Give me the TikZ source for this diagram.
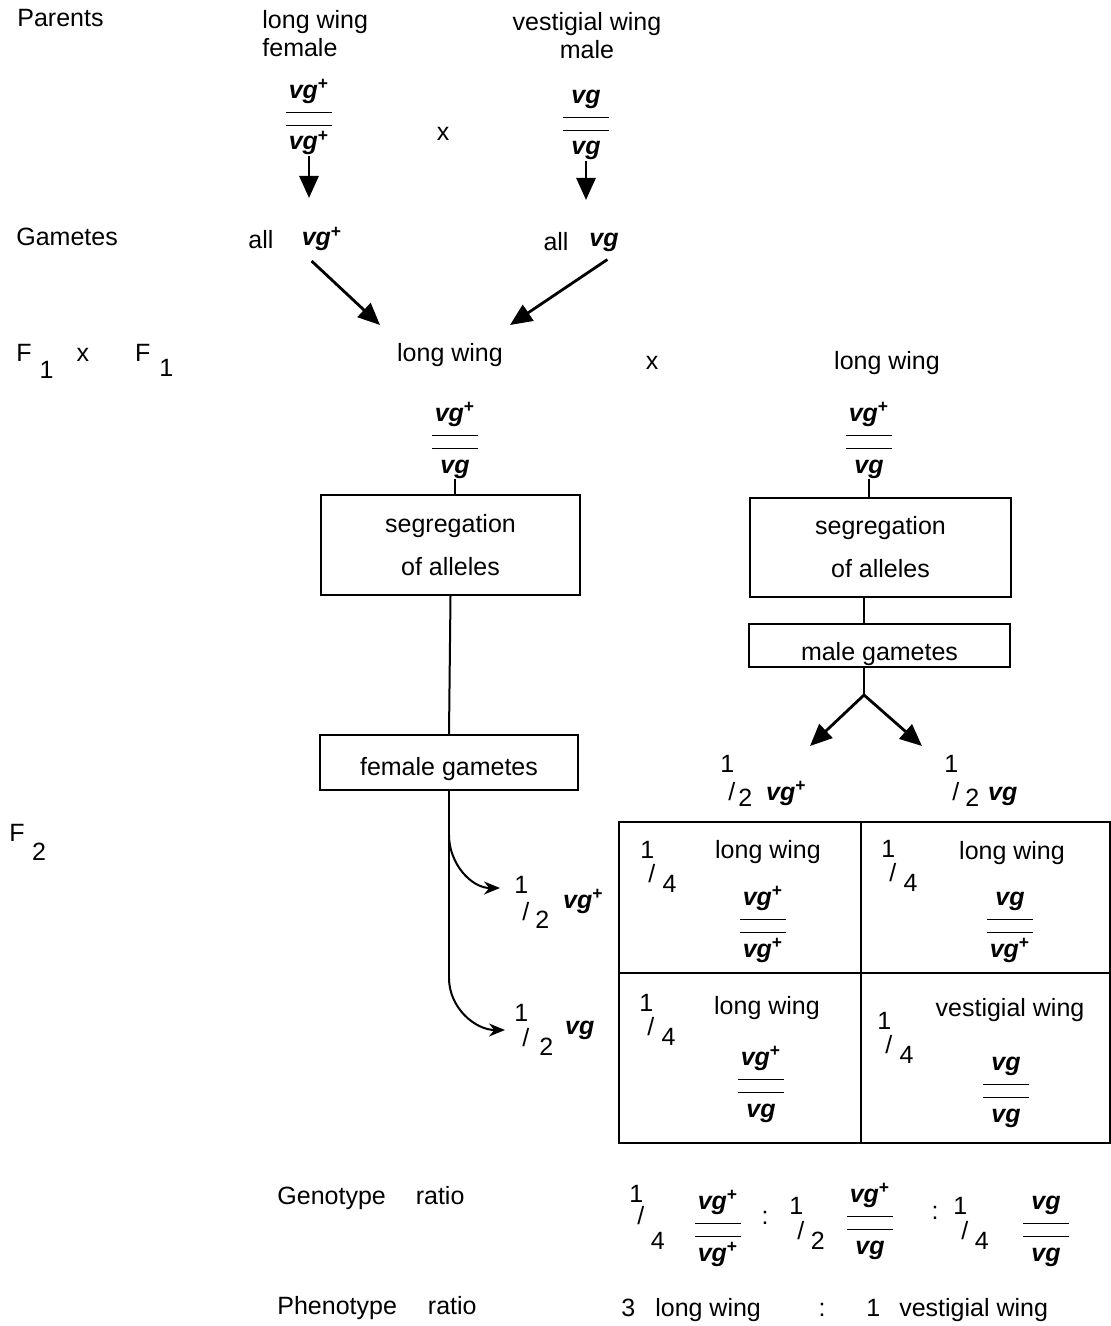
\documentclass[tikz,border=0pt]{standalone}
\usepackage{fontspec}
\setmainfont{Liberation Sans}
\usepackage{tikz}
\usetikzlibrary{arrows.meta,calc}

\newcommand{\vg}{\textbf{\textit{vg}}}
\newcommand{\vgp}{\textbf{\textit{vg}}\textsuperscript{\textbf{+}}}
% alleles over a double bar
\newcommand{\geno}[2]{\vbox{%
    \hbox to 23pt{\hss\vrule height6.8pt depth2.6pt width0pt\smash{#1}\hss}%
    \kern4pt\hrule height0.6pt\kern6.2pt\hrule height0.6pt\kern5pt
    \hbox to 23pt{\hss\vrule height6.8pt depth2.6pt width0pt\smash{#2}\hss}}}
% staggered fraction: [raise][lower][gap]{num}{den}
\NewDocumentCommand{\frq}{O{14pt} O{-3pt} O{2.5pt} m m}{\raisebox{#1}{#4}\kern-3pt/\kern#3\raisebox{#2}{#5}}

\begin{document}
\begin{tikzpicture}[x=0.5pt, y=-0.5pt,
    font=\fontsize{12.5}{15}\selectfont,
    every node/.style={inner sep=0pt},
    box/.style={draw, line width=1pt, align=center, font=\fontsize{12.5}{21.5}\selectfont},
    link/.style={line width=1pt},
    bigarrow/.style={line width=1.4pt, -{Triangle[length=11pt,width=9.5pt]}},
    curvearrow/.style={line width=1pt, -{Stealth[length=8pt,width=6.5pt]}}]
            \useasboundingbox (0,0) rectangle (1111,1326);

            % parents
            \node[anchor=west] (par) at (17,18) {Parents};
            \node[anchor=west, align=left, font=\fontsize{12.5}{14}\selectfont] (lwf) at (262,34) {long wing\\female};
            \node[align=center, font=\fontsize{12.5}{14}\selectfont] (vwm) at (587,36) {vestigial wing\\male};
            \node (gP1) at (309,120) {\geno{\vgp}{\vgp}};
            \node (crossP) at (443,134) {x};
            \node (gP2) at (586,125) {\geno{\vg}{\vg}};
            \coordinate (tP1) at (309,198);
            \coordinate (tP2) at (586,200);
            \draw[bigarrow] (gP1.south) -- (tP1);
            \draw[bigarrow] (gP2.south) -- (tP2);

            % gametes
            \node[anchor=west] (gam) at (16,237) {Gametes};
            \node (allF) at (261,240) {all};
            \node (gamF) at (322,239) {\vgp};
            \node (allM) at (556,242) {all};
            \node (gamM) at (604,242) {\vg};
            \coordinate (tF1) at (380,325);
            \coordinate (tM1) at (510,325);
            \draw[bigarrow, shorten <=7pt] (gamF.south west) -- (tF1);
            \draw[bigarrow, shorten <=7pt] (gamM.south east) -- (tM1);

            % F1 cross
            \node[anchor=base west] (fone) at (16,361) {F\kern4pt\raisebox{-9pt}{1}\kern11.5pt x\kern23pt F\kern4.5pt\raisebox{-7.5pt}{1}};
            \node (lwA) at (450,355) {long wing};
            \node (crossF) at (652,363) {x};
            \node (lwB) at (887,363) {long wing};
            \node (gA) at (455,443) {\geno{\vgp}{\vg}};
            \node (gB) at (869,443) {\geno{\vgp}{\vg}};

            \node[box, minimum width=129.5pt, minimum height=50pt] (segF) at (450.5,545) {segregation\\of alleles};
            \node[box, minimum width=130.5pt, minimum height=49.5pt] (segM) at (880.5,547.5) {segregation\\of alleles};
            \node[box, minimum width=130.5pt, minimum height=21.5pt, text height=15pt, text depth=0pt] (gamMbox) at (879.5,645.5) {male gametes};
            \node[box, minimum width=129pt, minimum height=27.5pt, text height=13pt, text depth=0pt] (gamFbox) at (449,762.5) {female gametes};

            \draw[link] (gA.south) -- (gA.south |- segF.north);
            \draw[link] (gB.south) -- (gB.south |- segM.north);
            \draw[link] (segF.south) -- (gamFbox.north);

            % male gametes split
            \coordinate (split) at (864,695);
            \coordinate (tS1) at (810,746);
            \coordinate (tS2) at (922,746);
            \draw[link] (segM.south -| split) -- (gamMbox.north -| split);
            \draw[link] (gamMbox.south -| split) -- (split);
            \draw[bigarrow] (split) -- (tS1);
            \draw[bigarrow] (split) -- (tS2);
            \node[anchor=base west] (hM1) at (720,800) {\frq[14pt][-3pt][1.5pt]{1}{2}\kern7pt\vgp};
            \node[anchor=base west] (hM2) at (944,800) {\frq[14pt][-3pt][3pt]{1}{2}\kern4.5pt\vg};

            % female gametes
            \coordinate (bendA) at (449,835);
            \coordinate (bendB) at (449,978);
            \coordinate (tipA) at (500,888);
            \coordinate (tipB) at (505,1030);
            \draw[link] (gamFbox.south) -- (bendB);
            \draw[curvearrow] (bendA) to[out=-90, in=180] (tipA);
            \draw[curvearrow] (bendB) to[out=-90, in=180] (tipB);
            \node[anchor=base west] (hF1) at (514,920) {\frq[13.5pt][-4pt][3pt]{1}{2}\kern7pt\raisebox{6pt}{\vgp}};
            \node[anchor=base west] (hF2) at (514,1046) {\frq[12.5pt][-4.5pt][5pt]{1}{2}\kern6pt\raisebox{6pt}{\vg}};

            % F2 grid
            \node[anchor=base west] (ftwo) at (9,841) {F\kern3.7pt\raisebox{-9.5pt}{2}};
            \draw[line width=1pt] (619,822) rectangle (1110,1143);
            \draw[line width=1pt] (861,822) -- (861,1143) (619,973) -- (1110,973);

            \node[anchor=base west] (fTL) at (640,882) {\frq[12pt][-5pt][3.7pt]{1}{4}};
            \node (pTL) at (768,852) {long wing};
            \node (gTL) at (763,927) {\geno{\vgp}{\vgp}};
            \node[anchor=base west] (fTR) at (881,881) {\frq[12pt][-5pt][3.7pt]{1}{4}};
            \node (pTR) at (1012,853) {long wing};
            \node (gTR) at (1010,927) {\geno{\vg}{\vgp}};
            \node[anchor=base west] (fBL) at (639,1035) {\frq[12pt][-5pt][3.7pt]{1}{4}};
            \node (pBL) at (767,1008) {long wing};
            \node (gBL) at (761,1087) {\geno{\vgp}{\vg}};
            \node[anchor=base west] (fBR) at (877,1053) {\frq[12pt][-5pt][3.7pt]{1}{4}};
            \node (pBR) at (1010,1010) {vestigial wing};
            \node (gBR) at (1006,1092) {\geno{\vg}{\vg}};

            % ratios
            \node[anchor=west] (genrat) at (277,1198) {Genotype\hspace{15pt}ratio};
            \node[anchor=base west] (rf1) at (629,1224) {\frq[11pt][-12.5pt][3.3pt]{1}{4}};
            \node (rg1) at (718,1231) {\geno{\vgp}{\vgp}};
            \node (rc1) at (765,1218) {:};
            \node[anchor=base west] (rf2) at (789,1239) {\frq[12.5pt][-5pt][3.3pt]{1}{2}};
            \node (rg2) at (870,1224) {\geno{\vgp}{\vg}};
            \node (rc2) at (935,1213) {:};
            \node[anchor=base west] (rf3) at (953,1239) {\frq[12.5pt][-5pt][3.3pt]{1}{4}};
            \node (rg3) at (1046,1231) {\geno{\vg}{\vg}};

            \node[anchor=west] (phenrat) at (277,1308) {Phenotype\hspace{15.5pt}ratio};
            \node[anchor=west] (ph1) at (621,1310) {3\hspace{10pt}long wing};
            \node (pc) at (822,1310) {:};
            \node[anchor=west] (ph2) at (866,1310) {1\hspace{9.5pt}vestigial wing};
          \end{tikzpicture}
\end{document}
